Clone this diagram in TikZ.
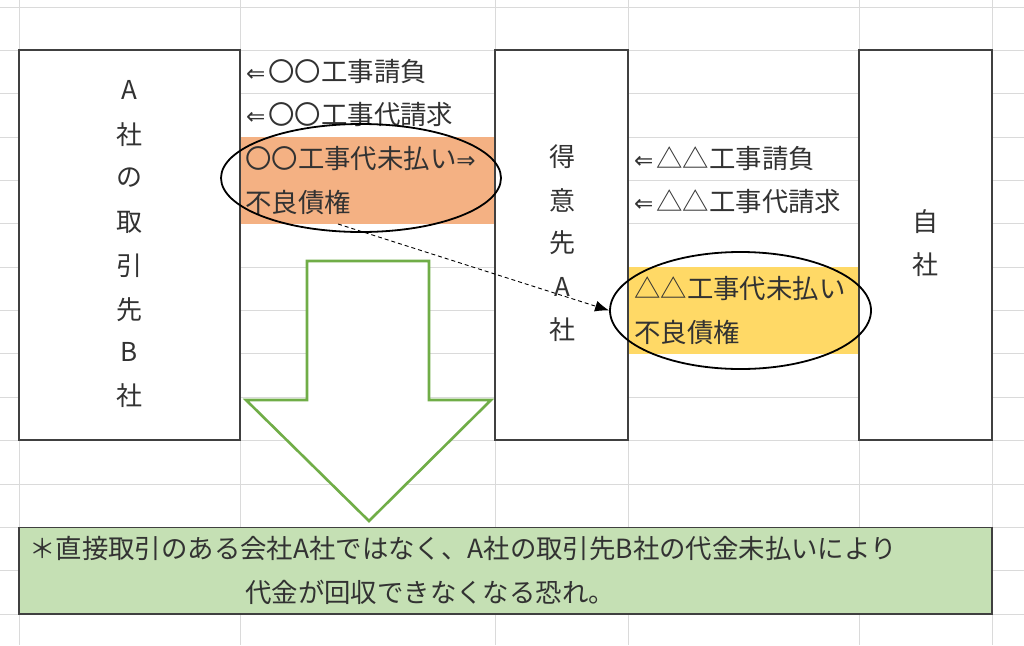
\documentclass[tikz,border=0pt]{standalone}
\usepackage{fontspec}
\usetikzlibrary{shapes.geometric,arrows.meta}
\newfontfamily\jp{Noto Sans CJK JP}
\newfontfamily\sym{DejaVu Sans}
\definecolor{gridc}{RGB}{218,218,218}
\definecolor{orangef}{RGB}{244,177,131}
\definecolor{yellowf}{RGB}{255,217,102}
\definecolor{greenf}{RGB}{197,224,180}
\definecolor{greenl}{RGB}{112,173,71}
\definecolor{boxc}{RGB}{64,64,64}
\definecolor{txtc}{RGB}{50,50,50}
\newcommand{\la}{{\sym\fontsize{23}{23}\selectfont ⇐}\hspace{3pt}}
\newcommand{\ra}{{\sym\fontsize{23}{23}\selectfont ⇒}}
\tikzset{
  company/.style={draw=boxc, line width=1.2pt, fill=white, inner sep=0pt},
  txt/.style={font=\jp\fontsize{26.4}{26.4}\selectfont, text=txtc, inner sep=0pt, anchor=west},
  vt/.style={font=\jp\fontsize{26}{26}\selectfont, text=txtc, inner sep=0pt},
  ell/.style={draw=black, ellipse, line width=1.8pt, inner sep=0pt},
}
\begin{document}
\begin{tikzpicture}[x=1pt,y=-1pt]
\useasboundingbox (0,0) rectangle (1024,645);
\fill[white] (0,0) rectangle (1024,645);
% spreadsheet grid
\foreach \k in {0,...,14} \draw[gridc, line width=0.9pt] (0,{7+43.36*\k}) -- (1024,{7+43.36*\k});
\foreach \x in {19,240,495,628,859,992} \draw[gridc, line width=0.9pt] (\x,0) -- (\x,645);
% highlighted cells
\fill[orangef] (240,137.1) rectangle (495,223.8);
\fill[yellowf] (628,267.2) rectangle (859,353.9);
% company boxes
\node[company, minimum width=221pt, minimum height=390pt] (B) at (129.5,245) {};
\node[company, minimum width=133pt, minimum height=390pt] (A) at (561.5,245) {};
\node[company, minimum width=133pt, minimum height=390pt] (J) at (925.5,245) {};
% vertical labels
\node[vt] (b1) at (129,90) {A};
\node[vt] (b2) at (129,135) {社};
\node[vt] (b3) at (129,178) {の};
\node[vt] (b4) at (129,222) {取};
\node[vt] (b5) at (129,266) {引};
\node[vt] (b6) at (129,310) {先};
\node[vt] (b7) at (129,352) {B};
\node[vt] (b8) at (129,396) {社};
\node[vt] (a1) at (562,157) {得};
\node[vt] (a2) at (562,200) {意};
\node[vt] (a3) at (562,243) {先};
\node[vt] (a4) at (562,287) {A};
\node[vt] (a5) at (562,330) {社};
\node[vt] (j1) at (925,222) {自};
\node[vt] (j2) at (925,265) {社};
% cell texts
\node[txt] (t1) at (246,71.5) {\la 〇〇工事請負};
\node[txt] (t2) at (246,115) {\la 〇〇工事代請求};
\node[txt] (t3) at (245,158.5) {〇〇工事代未払い\ra};
\node[txt] (t4) at (245,202) {不良債権};
\node[txt] (t5) at (634,158.5) {\la △△工事請負};
\node[txt] (t6) at (634,202) {\la △△工事代請求};
\node[txt] (t7) at (634,288.5) {△△工事代未払い};
\node[txt] (t8) at (634,332) {不良債権};
% green note box
\node[draw=boxc, line width=1.2pt, fill=greenf, minimum width=973pt, minimum height=86.7pt, inner sep=0pt] (N) at (505.5,570.6) {};
\node[txt] (n1) at (29,548) {＊直接取引のある会社A社ではなく、A社の取引先B社の代金未払いにより};
\node[txt] (n2) at (245,592) {代金が回収できなくなる恐れ。};
% big outline arrow
\draw[greenl, line width=2.6pt, fill=white, line join=miter]
  (307,261) -- (429,261) -- (429,400) -- (491,400) -- (369,521) -- (246,400) -- (307,400) -- cycle;
% ellipses
\node[ell, minimum width=280pt, minimum height=108pt] (e1) at (361,178) {};
\node[ell, minimum width=261pt, minimum height=117pt] (e2) at (740.5,310.5) {};
% dashed arrow
\coordinate (ds) at (338,224);
\draw[black, line width=0.9pt, dash pattern=on 4pt off 3pt, -{Latex[length=14pt,width=11pt]}] (ds) -- (e2.west);
\end{tikzpicture}
\end{document}
